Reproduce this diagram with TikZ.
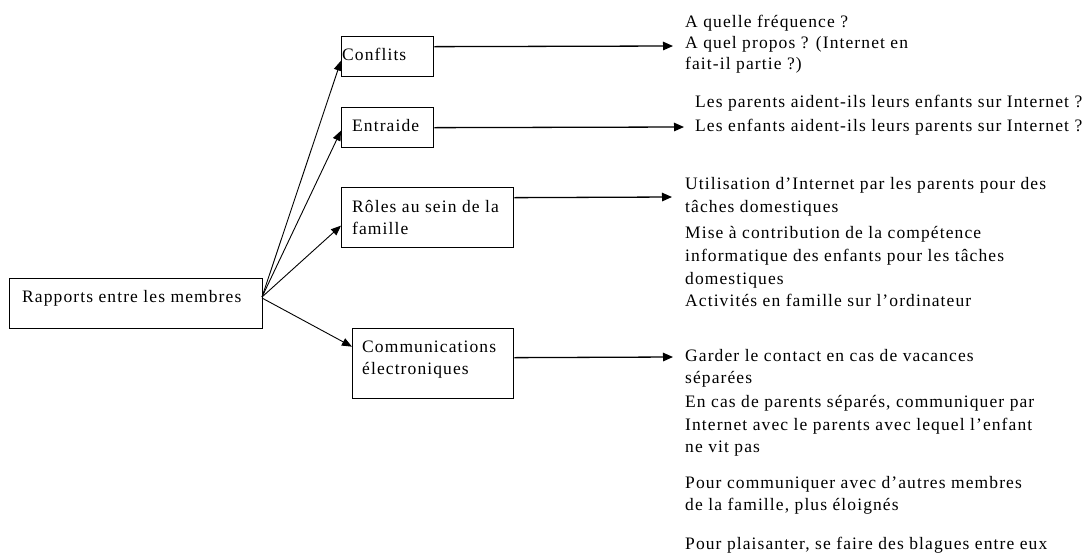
\documentclass[tikz,border=0pt]{standalone}
\usepackage{fontspec}
\setmainfont[LetterSpace=6.3]{Liberation Serif}
\usetikzlibrary{arrows.meta}
\begin{document}
\begin{tikzpicture}[x=1pt,y=-1pt,
  every node/.style={font=\fontsize{17.5}{22}\selectfont},
  boxnode/.style={draw,line width=1.3pt,rectangle,anchor=north west,inner sep=0pt},
  txt/.style={anchor=base west,inner sep=0pt},
  arr/.style={line width=1.3pt,-{Triangle[length=10pt,width=8.5pt]}},
  farr/.style={line width=0.9pt,-{Triangle[length=10pt,width=8pt]}}]
\path[use as bounding box] (0,0) rectangle (1088,558);

% boxes
\node[boxnode,minimum width=253pt,minimum height=50pt] (rap) at (9,278) {};
\node[boxnode,minimum width=92pt,minimum height=40pt] (conf) at (341,36) {};
\node[boxnode,minimum width=92pt,minimum height=40pt] (entr) at (341,107) {};
\node[boxnode,minimum width=172pt,minimum height=60pt] (role) at (341,187) {};
\node[boxnode,minimum width=161pt,minimum height=70pt] (comm) at (352,328) {};

% box labels
\node[txt] (trap) at (22,302) {Rapports entre les membres};
\node[txt] (tconf) at (342,60) {Conflits};
\node[txt] (tentr) at (352,131) {Entraide};
\node[txt] (trole1) at (352,212) {Rôles au sein de la};
\node[txt] (trole2) at (352,234) {famille};
\node[txt] (tcomm1) at (362,352) {Communications};
\node[txt] (tcomm2) at (362,374) {électroniques};

% fan arrows
\coordinate (o) at (262,297);
\draw[farr] (o) -- ([yshift=-4pt]conf.west);
\draw[farr] (o) -- ([yshift=-3pt]entr.west);
\draw[farr] (o) -- ([yshift=-8pt]role.west);
\draw[farr] ([yshift=-1pt]o) -- ([yshift=17pt]comm.west);

% right arrows
\coordinate (e1) at (673,46);
\coordinate (e2) at (684,127);
\coordinate (e3) at (672,197);
\coordinate (e4) at (673,357);
\draw[arr] ([yshift=10pt]conf.east) -- (e1);
\draw[arr] (entr.east) -- (e2);
\draw[arr] ([yshift=20pt]role.east) -- (e3);
\draw[arr] ([yshift=6pt]comm.east) -- (e4);

% right texts
\node[txt] (a1) at (685,27) {A quelle fréquence ?};
\node[txt] (a2) at (685,48) {A quel propos ? (Internet en};
\node[txt] (a3) at (685,69) {fait-il partie ?)};

\node[txt] (b1) at (695,107) {Les parents aident-ils leurs enfants sur Internet ?};
\node[txt] (b2) at (695,131) {Les enfants aident-ils leurs parents sur Internet ?};

\node[txt] (c1) at (685,189) {Utilisation d’Internet par les parents pour des};
\node[txt] (c2) at (685,212) {tâches domestiques};
\node[txt] (c3) at (685,238) {Mise à contribution de la compétence};
\node[txt] (c4) at (685,261) {informatique des enfants pour les tâches};
\node[txt] (c5) at (685,284) {domestiques};
\node[txt] (c6) at (685,306) {Activités en famille sur l’ordinateur};

\node[txt] (d1) at (685,361) {Garder le contact en cas de vacances};
\node[txt] (d2) at (685,383) {séparées};
\node[txt] (d3) at (685,407) {En cas de parents séparés, communiquer par};
\node[txt] (d4) at (685,430) {Internet avec le parents avec lequel l’enfant};
\node[txt] (d5) at (685,452) {ne vit pas};
\node[txt] (d6) at (685,488) {Pour communiquer avec d’autres membres};
\node[txt] (d7) at (685,510) {de la famille, plus éloignés};
\node[txt] (d8) at (685,549) {Pour plaisanter, se faire des blagues entre eux};
\end{tikzpicture}
\end{document}
